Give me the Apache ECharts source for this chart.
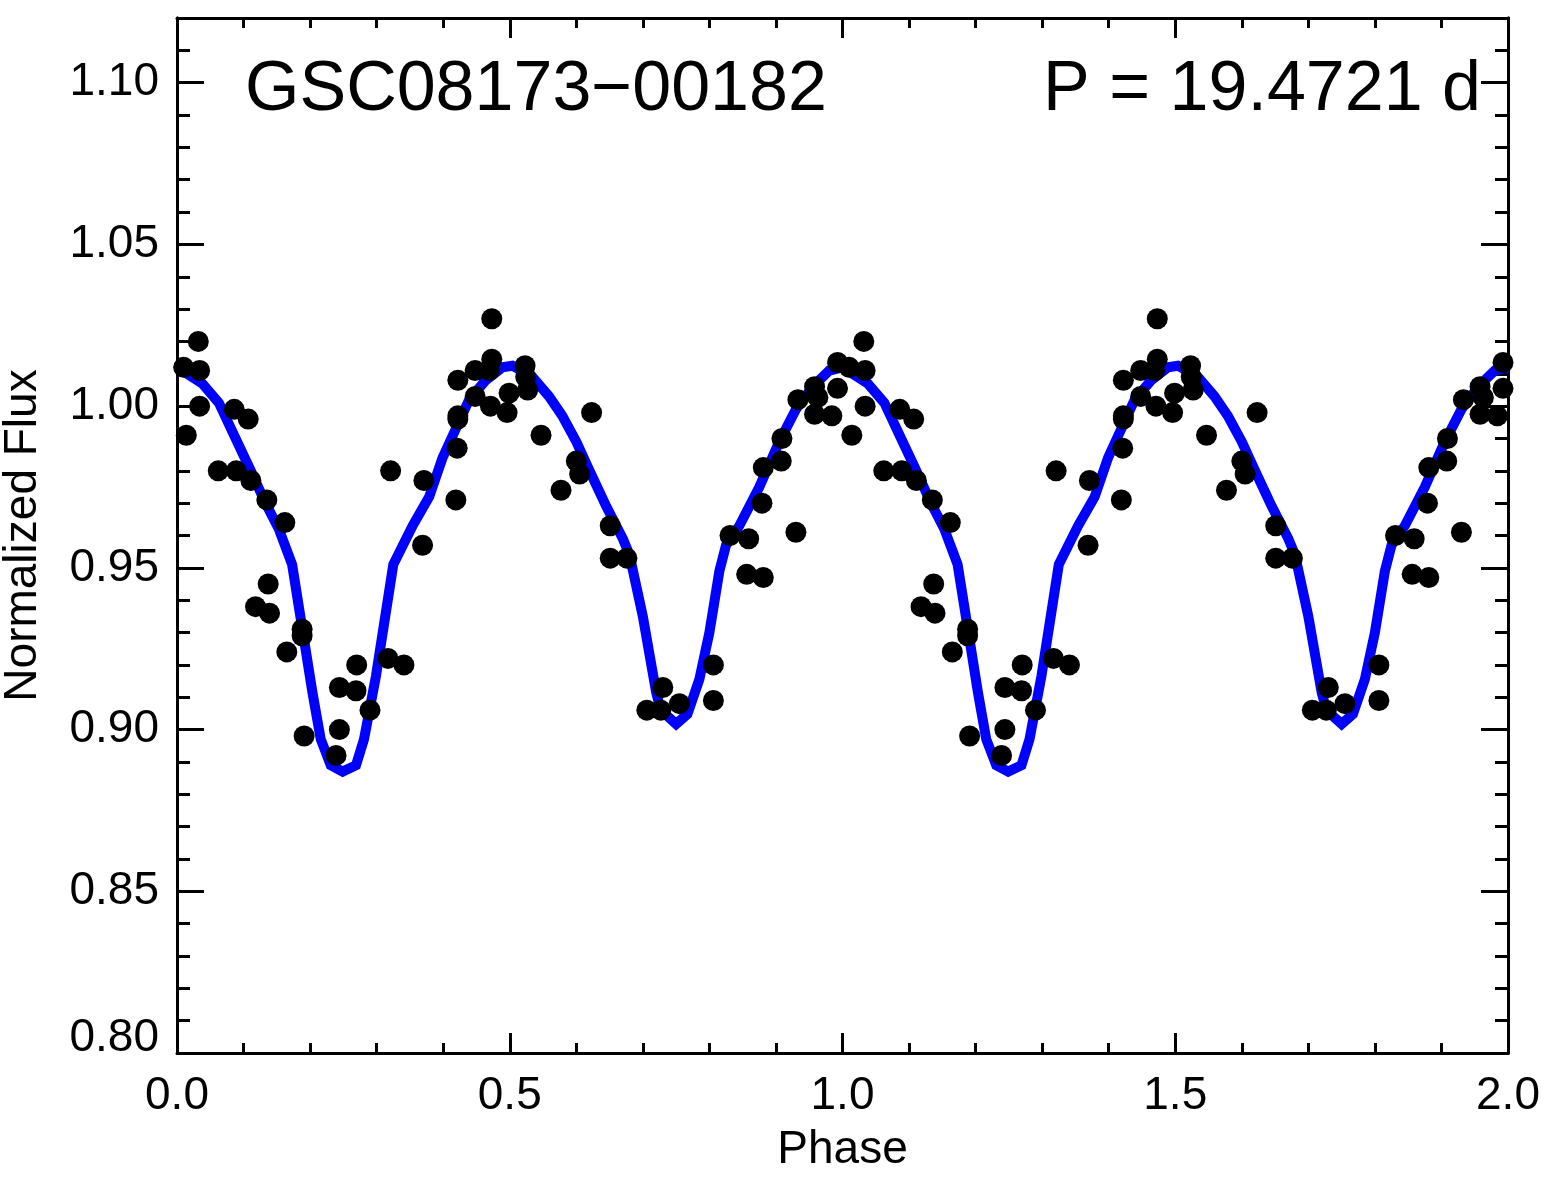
<!DOCTYPE html>
<html>
<head>
<meta charset="utf-8">
<title>GSC08173-00182 phased light curve</title>
<script src="https://cdn.jsdelivr.net/npm/echarts@6/dist/echarts.min.js"></script>
<style>
  html, body { margin: 0; padding: 0; background: #fff; }
  #chart { width: 1565px; height: 1190px; }
</style>
</head>
<body>
<div id="chart"></div>
<script>
// one cycle of the folded light curve, plotted twice (phase 0-1 and 1-2)
const phase = [
  0.010, 0.014, 0.032, 0.034, 0.034, 0.062, 0.086, 0.089, 0.107, 0.111,
  0.118, 0.135, 0.137, 0.139, 0.162, 0.165, 0.188, 0.188, 0.191, 0.239,
  0.244, 0.244, 0.269, 0.270, 0.290, 0.317, 0.321, 0.341, 0.369, 0.371,
  0.419, 0.421, 0.422, 0.422, 0.422, 0.448, 0.448, 0.469, 0.471, 0.473,
  0.473, 0.496, 0.499, 0.523, 0.524, 0.527, 0.547, 0.577, 0.600, 0.605,
  0.623, 0.651, 0.651, 0.676, 0.706, 0.727, 0.730, 0.755, 0.806, 0.806,
  0.831, 0.856, 0.859, 0.879, 0.881, 0.881, 0.908, 0.909, 0.930, 0.933,
  0.958, 0.958, 0.963, 0.984, 0.9925, 0.9925
];
const flux = [
  1.012, 0.991, 1.020, 1.011, 1.000, 0.980, 0.999, 0.980, 0.996, 0.977,
  0.938, 0.971, 0.945, 0.936, 0.964, 0.924, 0.931, 0.929, 0.898, 0.892,
  0.913, 0.900, 0.912, 0.920, 0.906, 0.922, 0.980, 0.920, 0.957, 0.977,
  0.971, 0.987, 0.997, 0.996, 1.008, 1.011, 1.003, 1.011, 1.000, 1.027,
  1.0145, 0.998, 1.004, 1.0125, 1.009, 1.005, 0.991, 0.974, 0.983, 0.979,
  0.998, 0.963, 0.953, 0.953, 0.906, 0.906, 0.913, 0.908, 0.920, 0.909,
  0.960, 0.948, 0.959, 0.970, 0.947, 0.981, 0.983, 0.990, 0.961, 1.002,
  1.006, 0.9975, 1.0027, 0.997, 1.0055, 1.0135
];

// model curve, one cycle
const modelPhase = [
  0.000, 0.038, 0.063, 0.088, 0.111, 0.133, 0.153, 0.173, 0.2035, 0.216,
  0.231, 0.249, 0.269, 0.281, 0.299, 0.325, 0.354, 0.379, 0.399, 0.419,
  0.439, 0.464, 0.489, 0.504, 0.534, 0.559, 0.579, 0.600, 0.620, 0.645,
  0.670, 0.680, 0.700, 0.720, 0.727, 0.750, 0.767, 0.785, 0.800, 0.815,
  0.825, 0.845, 0.875, 0.905, 0.930, 0.955, 0.980
];
const modelFlux = [
  1.012, 1.007, 1.001, 0.990, 0.980, 0.970, 0.962, 0.951, 0.9115, 0.897,
  0.889, 0.887, 0.889, 0.897, 0.9166, 0.951, 0.963, 0.972, 0.984, 0.993,
  1.002, 1.008, 1.012, 1.0125, 1.009, 1.003, 0.997, 0.989, 0.980, 0.969,
  0.959, 0.954, 0.935, 0.9115, 0.906, 0.9017, 0.9048, 0.9156, 0.930, 0.949,
  0.957, 0.963, 0.975, 0.989, 0.999, 1.006, 1.011
];

const cycles = 2;
const title = "GSC08173\u221200182";
const periodText = "P = 19.4721 d";
const xName = "Phase";
const yName = "Normalized Flux";

let points = [];
let model = [];
for (let c = 0; c < cycles; c++) {
  phase.forEach((p, i) => points.push([p + c, flux[i]]));
  modelPhase.forEach((p, i) => model.push([p + c, modelFlux[i]]));
}
model.push([cycles, modelFlux[0]]);

const font = "Liberation Sans";
const black = "#000";
const axisLine = {show: true, lineStyle: {color: black, width: 3}};

function xAxisDef(pos, labels) {
  return {
    type: "value", position: pos, min: 0, max: 2, interval: 0.5,
    axisLine: axisLine,
    axisTick: {show: true, inside: true, length: 20, lineStyle: {color: black, width: 3}},
    minorTick: {show: true, splitNumber: 5, length: 10, lineStyle: {color: black, width: 3}},
    splitLine: {show: false},
    axisLabel: {
      show: labels, margin: 20, color: black, fontSize: 46, fontFamily: font,
      formatter: v => v.toFixed(1)
    },
    name: labels ? xName : "", nameLocation: "middle", nameGap: 74,
    nameTextStyle: {color: black, fontSize: 46, fontFamily: font}
  };
}

function yAxisDef(pos, major, labels) {
  return {
    type: "value", position: pos, min: 0.80, max: 1.12, interval: major ? 0.05 : 0.01,
    axisLine: axisLine,
    axisTick: {show: true, inside: true, length: major ? 27 : 13, lineStyle: {color: black, width: 3}},
    splitLine: {show: false},
    axisLabel: {
      show: labels, margin: 18, color: black, fontSize: 46, fontFamily: font,
      formatter: v => v > 1.105 ? "" : (v < 0.801 ? "{lo|" + v.toFixed(2) + "}" : v.toFixed(2)),
      rich: {lo: {fontSize: 46, fontFamily: font, color: black, padding: [0, 0, 30, 0]}}
    },
    name: labels ? yName : "", nameLocation: "middle", nameGap: 131,
    nameTextStyle: {color: black, fontSize: 46, fontFamily: font}
  };
}

let chart = echarts.init(document.getElementById("chart"));
chart.setOption({
  animation: false,
  backgroundColor: "#fff",
  grid: {left: 177, right: 57, top: 18, bottom: 137, containLabel: false, outerBoundsMode: "none"},
  xAxis: [xAxisDef("bottom", true), xAxisDef("top", false)],
  yAxis: [
    yAxisDef("left", true, true), yAxisDef("left", false, false),
    yAxisDef("right", true, false), yAxisDef("right", false, false)
  ],
  graphic: [
    {type: "text", style: {text: title, x: 245, y: 91, font: "70px '" + font + "'",
      fill: black, align: "left", verticalAlign: "middle"}},
    {type: "text", style: {text: periodText, x: 1481, y: 91, font: "70px '" + font + "'",
      fill: black, align: "right", verticalAlign: "middle"}}
  ],
  series: [
    {
      type: "line", data: model, xAxisIndex: 0, yAxisIndex: 0,
      showSymbol: false, smooth: false, z: 2,
      lineStyle: {color: "#0000ff", width: 10, join: "miter"}
    },
    {
      type: "scatter", data: points, xAxisIndex: 0, yAxisIndex: 0,
      symbol: "circle", symbolSize: 21, z: 3,
      itemStyle: {color: black, opacity: 1}
    }
  ]
});
</script>
</body>
</html>
